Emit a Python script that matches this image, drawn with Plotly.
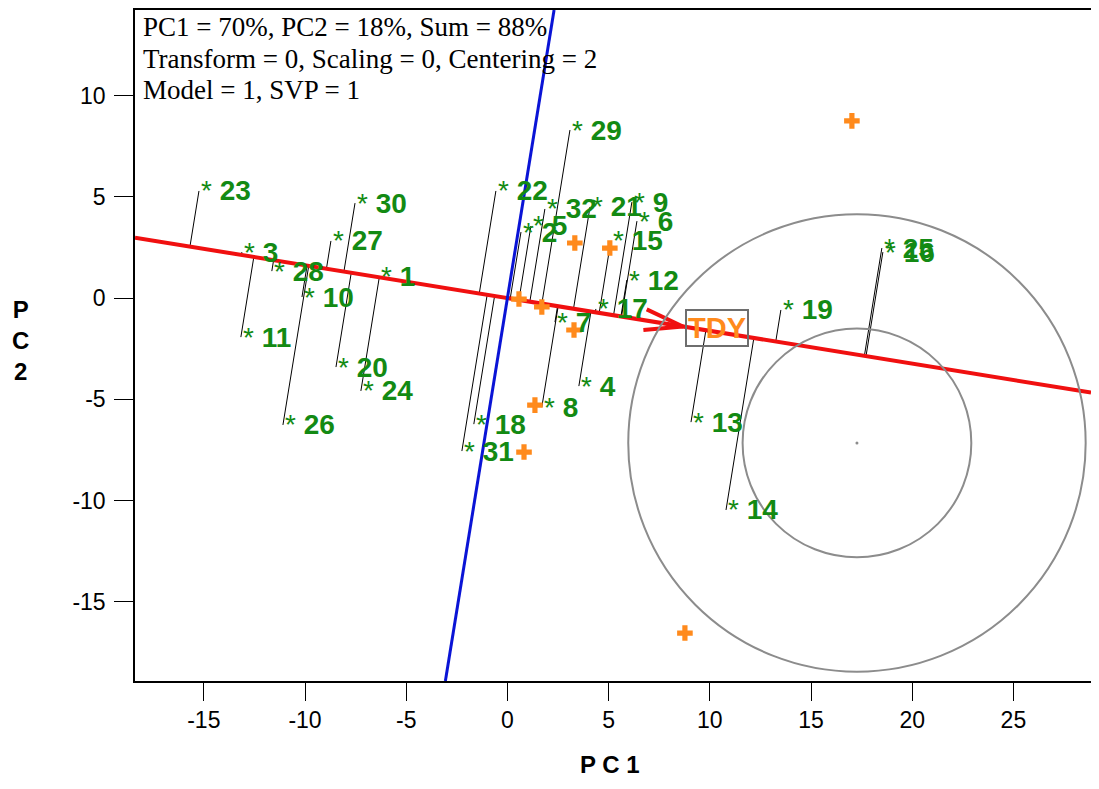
import numpy as np
import plotly.graph_objects as go

# ---------------- data ----------------
genotypes = [str(i) for i in range(1, 33)]
gen_x = [-6.35, 0.67, -13.12, 3.53, 1.16, 6.40, 2.35, 1.70, 6.15, -10.15,
         -13.17, 5.90, 9.07, 10.80, 5.11, 18.55, 4.37, -1.66, 13.51, -8.47,
         4.08, -0.57, -15.24, -7.24, 18.50, -11.09, -8.72, -11.64, 3.09, -7.53,
         -2.25, 1.85]
gen_y = [1.04, 3.26, 2.27, -4.35, 3.56, 3.80, -1.19, -5.39, 4.74, 0.05,
         -1.93, 0.89, -6.13, -10.47, 2.82, 2.27, -0.54, -6.23, -0.59, -3.41,
         4.50, 5.29, 5.29, -4.59, 2.47, -6.27, 2.82, 1.33, 8.30, 4.69,
         -7.56, 4.40]

env_x = [17.02, 8.77, 0.57, 1.70, 3.33, 5.06, 3.29, 1.36, 0.82]
env_y = [8.75, -16.55, -0.05, -0.44, 2.72, 2.47, -1.58, -5.29, -7.61]

mean_env_label = "TDY"
mean_env_label_xy = (10.35, -1.48)
aea_slope = -0.162          # average-environment axis slope
aea_tip_x = 8.67            # arrow tip along the axis

circle_center = (17.27, -7.16)
circle_radii = [5.65, 11.3]

info_lines = ["PC1 = 70%, PC2 = 18%, Sum = 88%",
              "Transform = 0, Scaling = 0, Centering = 2",
              "Model = 1, SVP = 1"]

x_min = -18.4
y_range = [-18.92, 14.23]
x_ticks = [-15, -10, -5, 0, 5, 10, 15, 20, 25]
y_ticks = [-15, -10, -5, 0, 5, 10]

GREEN = "#138a13"
ORANGE = "#ff8a1c"
SANS = "Arial, Liberation Sans, sans-serif"
SERIF = "Times New Roman, Liberation Serif, serif"

# page geometry (pixels in the final page; the page body adds an 8 px margin)
OFF = 8
W, H = 1099 - 2 * OFF, 789 - 2 * OFF
PL, PT, PB = 135, 10, 681
PR = OFF + W
PW, PH = PR - PL, PB - PT
UNIT = 20.24                          # pixels per data unit
x_range = [x_min, x_min + PW / UNIT]


def px_x(p):
    return (p - PL) / PW


def px_y(p):
    return (PB - p) / PH


fig = go.Figure()

# projection lines from genotypes to the AEA
n = np.hypot(1.0, aea_slope)
ux, uy = 1.0 / n, aea_slope / n
lx, ly = [], []
for gx, gy in zip(gen_x, gen_y):
    t = gx * ux + gy * uy
    lx += [gx, t * ux, None]
    ly += [gy, t * uy, None]
fig.add_trace(go.Scatter(x=lx, y=ly, mode="lines",
                         line=dict(color="black", width=1), hoverinfo="skip"))

# average environment axis (red) and its perpendicular (blue)
fig.add_trace(go.Scatter(x=x_range, y=[aea_slope * v for v in x_range], mode="lines",
                         line=dict(color="#f01010", width=4), hoverinfo="skip"))
perp = -1.0 / aea_slope
fig.add_trace(go.Scatter(x=[v / perp for v in y_range], y=y_range, mode="lines",
                         line=dict(color="#0a14d6", width=3), hoverinfo="skip"))

# open arrow head at the mean environment
tip = np.array([aea_tip_x, aea_slope * aea_tip_x])
back = -np.array([ux, uy])
side = np.array([-uy, ux])
b1 = tip + back * 1.9 + side * 0.55
b2 = tip + back * 1.9 - side * 0.48
fig.add_trace(go.Scatter(x=[b1[0], tip[0], b2[0]], y=[b1[1], tip[1], b2[1]], mode="lines",
                         line=dict(color="#f01010", width=4), hoverinfo="skip"))

# concentric circles
for r in circle_radii:
    fig.add_shape(type="circle", xref="x", yref="y",
                  x0=circle_center[0] - r, x1=circle_center[0] + r,
                  y0=circle_center[1] - r, y1=circle_center[1] + r,
                  line=dict(color="#8c8c8c", width=2))
fig.add_trace(go.Scatter(x=[circle_center[0]], y=[circle_center[1]], mode="markers",
                         marker=dict(color="#8c8c8c", size=3), hoverinfo="skip"))

# environments
fig.add_trace(go.Scatter(x=env_x, y=env_y, mode="markers",
                         marker=dict(symbol="cross", size=13, color=ORANGE,
                                     line=dict(width=0)), hoverinfo="skip"))

# genotype labels
for g, gx, gy in zip(genotypes, gen_x, gen_y):
    fig.add_annotation(x=gx, y=gy, xref="x", yref="y", text="* <b>" + g + "</b>",
                       showarrow=False, xanchor="left", yanchor="middle",
                       font=dict(family=SANS, size=28, color=GREEN))

# mean environment label
fig.add_annotation(x=mean_env_label_xy[0], y=mean_env_label_xy[1], xref="x", yref="y",
                   text="<b>" + mean_env_label + "</b>", showarrow=False,
                   font=dict(family=SANS, size=29, color=ORANGE),
                   bordercolor="#6e6e6e", borderwidth=2, borderpad=1)

# info text
for i, line in enumerate(info_lines):
    fig.add_annotation(xref="paper", yref="paper", x=px_x(141),
                       y=px_y(27 + 31.7 * i),
                       text=line, showarrow=False, xanchor="left", yanchor="middle",
                       font=dict(family=SERIF, size=27, color="black"))

# axis titles
fig.add_annotation(xref="paper", yref="paper", x=px_x(610), y=px_y(764),
                   text="<b>P C 1</b>", showarrow=False, xanchor="center", yanchor="middle",
                   font=dict(family=SANS, size=24, color="black"))
fig.add_annotation(xref="paper", yref="paper", x=px_x(20), y=px_y(340),
                   text="<b>P<br>C<br>2</b>", showarrow=False, xanchor="center", yanchor="middle",
                   font=dict(family=SANS, size=24, color="black"))

fig.update_layout(
    width=W, height=H,
    margin=dict(l=PL - OFF, r=0, t=PT - OFF, b=H - (PB - OFF)),
    plot_bgcolor="white", paper_bgcolor="white",
    showlegend=False,
    xaxis=dict(range=x_range, tickvals=x_ticks, ticktext=[str(v) for v in x_ticks],
               ticks="outside", ticklen=18,
               tickwidth=1, tickcolor="black", showline=True, linecolor="black",
               linewidth=1.5, mirror=True, showgrid=False, zeroline=False,
               ticklabelstandoff=0,
               tickfont=dict(family=SANS, size=23, color="black")),
    yaxis=dict(range=y_range, tickvals=y_ticks, ticktext=[str(v) for v in y_ticks],
               ticks="outside", ticklen=19,
               tickwidth=1, tickcolor="black", showline=True, linecolor="black",
               linewidth=1.5, mirror=False, showgrid=False, zeroline=False,
               ticklabelstandoff=4,
               tickfont=dict(family=SANS, size=23, color="black")),
)

fig.write_html("out.html")
